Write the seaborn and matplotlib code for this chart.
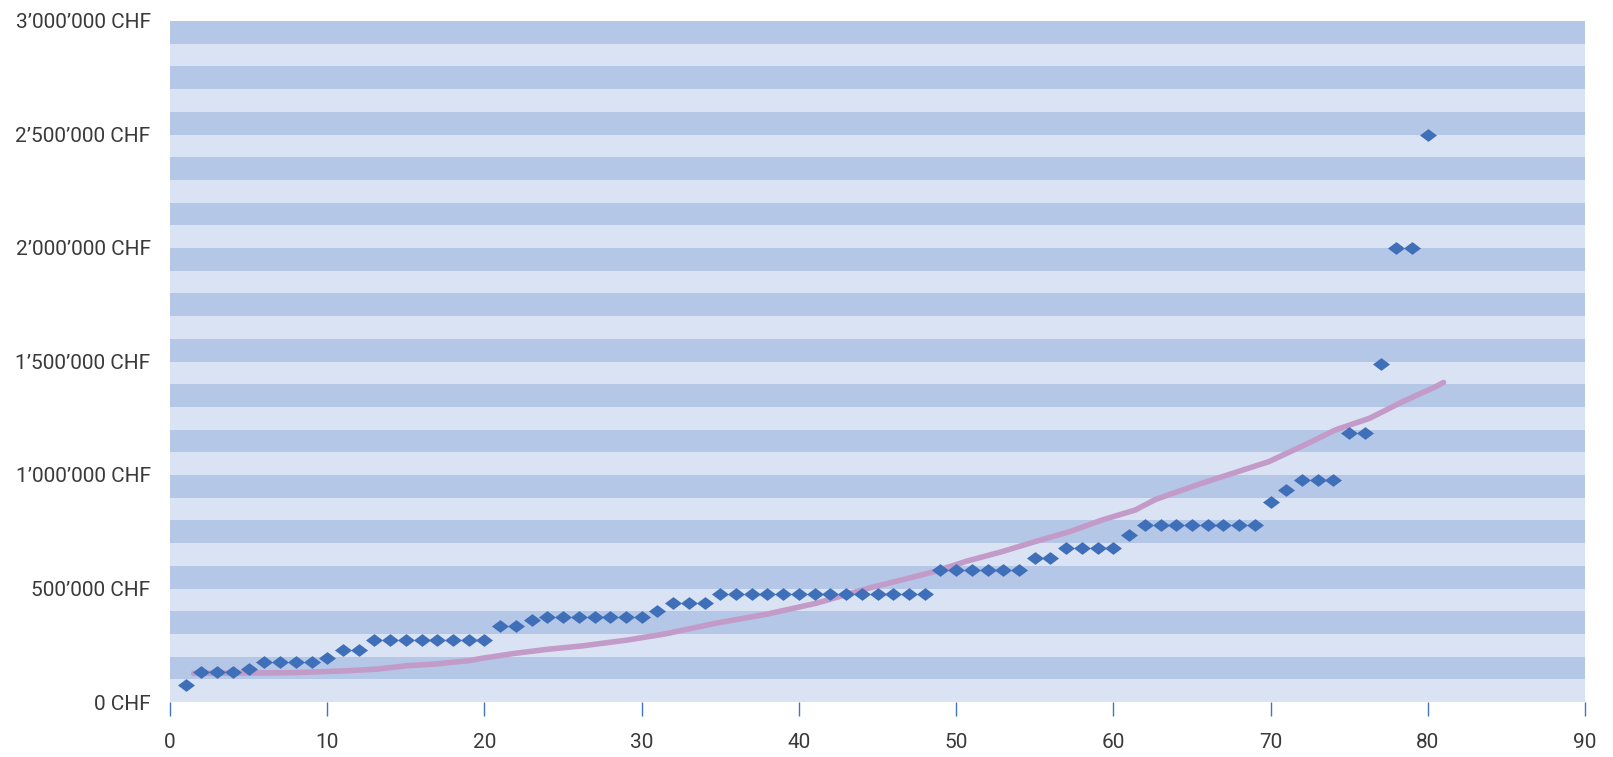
import numpy as np
import pandas as pd
import matplotlib
matplotlib.use("Agg")
import matplotlib.pyplot as plt
from matplotlib.path import Path
from matplotlib.ticker import FuncFormatter
import seaborn as sns

# ---- data ----
rank = list(range(1, 81))
amount = ([75000] + [130000] * 3 + [145000] + [175000] * 4 + [195000] + [230000] * 2
          + [275000] * 8 + [335000] * 2 + [360000] + [375000] * 7 + [400000]
          + [435000] * 3 + [475000] * 14 + [580000] * 6 + [635000] * 2 + [680000] * 4
          + [735000] + [780000] * 8 + [880000] + [935000] + [980000] * 3
          + [1185000] * 2 + [1490000] + [2000000] * 2 + [2500000])

trend_x = [1.5, 7.7, 11.1, 13.2, 15.1, 16.8, 19.0, 19.8, 21.9, 24.0, 26.2, 29.1, 31.5,
           34.7, 37.9, 41.1, 44.4, 46.5, 48.6, 50.7, 52.9, 55.0, 57.2, 59.3, 61.4, 62.7,
           65.6, 69.9, 72.4, 74.1, 76.3, 78.4, 80.5, 81.0]
trend_y = [126000, 129000, 137000, 145000, 160000, 167000, 182000, 192000, 214000,
           232000, 247000, 273000, 300000, 347000, 386000, 435000, 501000, 537000,
           574000, 621000, 662000, 706000, 750000, 802000, 846000, 893000, 963000,
           1059000, 1140000, 1198000, 1250000, 1323000, 1389000, 1408000]

x_ticks = list(range(0, 91, 10))
y_ticks = list(range(0, 3000001, 500000))

# ---- styling ----
sns.set_theme(style="white")
plt.rcParams['font.family'] = ['Roboto', 'DejaVu Sans']

DARK = "#B4C7E7"
LIGHT = "#DAE3F3"
MARK = "#3F6FB8"
LINE = "#C39BC8"
TXT = "#3a3a3a"

fig = plt.figure(figsize=(16.13, 7.57), dpi=100)
ax = fig.add_axes([170 / 1613, 1 - 702 / 757, (1585 - 170) / 1613, (702 - 21) / 757])
ax.set_facecolor(LIGHT)
for k in range(1, 30, 2):
    ax.axhspan(k * 100000, (k + 1) * 100000, color=DARK, lw=0, zorder=0)

df_pts = pd.DataFrame({"rank": rank, "amount": amount})
df_line = pd.DataFrame({"x": trend_x, "y": trend_y})

sns.lineplot(data=df_line, x="x", y="y", ax=ax, color=LINE, linewidth=4.0,
             solid_capstyle="round", zorder=2)

diamond = Path([(-1, 0), (0, 0.75), (1, 0), (0, -0.75), (-1, 0)],
               [Path.MOVETO, Path.LINETO, Path.LINETO, Path.LINETO, Path.CLOSEPOLY])
sns.scatterplot(data=df_pts, x="rank", y="amount", ax=ax, marker=diamond, s=150,
                color=MARK, linewidth=0, zorder=3)

ax.set_xlim(0, 90)
ax.set_ylim(0, 3000000)
ax.set_xticks(x_ticks)
ax.set_yticks(y_ticks)
ax.yaxis.set_major_formatter(FuncFormatter(
    lambda v, p: f"{int(v):,}".replace(",", "\u2019") + " CHF"))
ax.set_xlabel("")
ax.set_ylabel("")
for s in ax.spines.values():
    s.set_visible(False)
ax.tick_params(axis="x", length=10, width=1.0, color="#4472C4", direction="out",
               pad=12, labelsize=15, labelcolor=TXT, bottom=True)
ax.tick_params(axis="y", length=0, pad=14, labelsize=15, labelcolor=TXT)
ax.grid(False)

fig.savefig("out.png", dpi=100)
